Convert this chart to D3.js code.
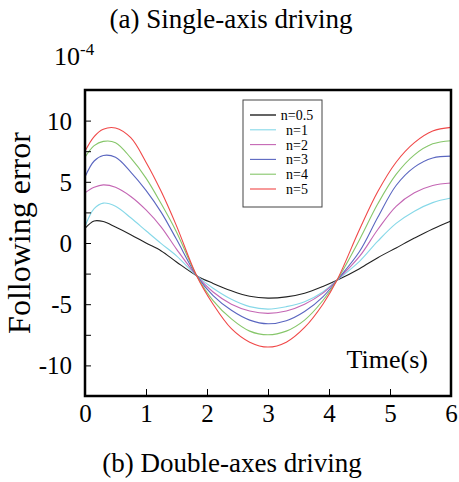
<!doctype html>
<html>
<head>
<meta charset="utf-8">
<script src="https://cdnjs.cloudflare.com/ajax/libs/d3/7.8.5/d3.min.js"></script>
<style>
  body { margin: 0; background: #fff; }
  svg { display: block; }
  svg text { font-family: "Liberation Serif", "Times New Roman", Times, serif; }
</style>
</head>
<body>
<svg width="459" height="482"></svg>
<script>
// sample times (s) shared by every series
var times = [0, 0.15, 0.3, 0.5, 0.75, 1, 1.25, 1.5, 1.83, 2.1, 2.4, 2.7, 3, 3.3, 3.6, 3.9, 4.13, 4.5, 4.8, 5.1, 5.4, 5.7, 6];

// following error, x 10^-4
var n05 = [1.2, 1.8, 1.75, 1.3, 0.68, 0.0, -0.65, -1.55, -2.67, -3.3, -3.9, -4.35, -4.5, -4.4, -4.1, -3.55, -3.05, -2.1, -1.2, -0.4, 0.4, 1.15, 1.8];
var n1  = [1.35, 2.8, 3.26, 3.0, 2.06, 1.0, -0.05, -1.05, -2.67, -3.7, -4.6, -5.2, -5.4, -5.2, -4.8, -4.0, -3.05, -1.5, 0.15, 1.6, 2.6, 3.3, 3.67];
var n2  = [4.1, 4.55, 4.75, 4.55, 3.8, 2.7, 1.3, -0.5, -2.67, -4.0, -5.0, -5.55, -5.75, -5.55, -5.0, -4.1, -3.05, -1.1, 1.1, 3.0, 4.1, 4.7, 4.9];
var n3  = [5.4, 6.7, 7.15, 7.0, 5.8, 4.3, 2.5, 0.3, -2.67, -4.3, -5.5, -6.3, -6.6, -6.35, -5.6, -4.4, -3.05, -0.7, 2.1, 4.7, 6.2, 6.95, 7.1];
var n4  = [7.0, 7.95, 8.3, 8.2, 6.95, 5.3, 3.2, 0.9, -2.67, -4.7, -6.2, -7.2, -7.5, -7.2, -6.3, -4.7, -3.05, 0.27, 3.2, 5.6, 7.2, 8.1, 8.36];
var n5  = [7.5, 8.7, 9.3, 9.4, 8.6, 6.6, 4.2, 1.4, -2.67, -5.0, -7.0, -8.1, -8.5, -8.1, -6.9, -5.0, -3.05, 1.1, 4.2, 6.6, 8.2, 9.15, 9.45];

var seriesNames = ["n=0.5", "n=1", "n=2", "n=3", "n=4", "n=5"];
var seriesValues = [n05, n1, n2, n3, n4, n5];
var seriesColors = ["#222222", "#86d8e8", "#c466b4", "#5a66c0", "#86c66a", "#f04848"];

var xTicks = [0, 1, 2, 3, 4, 5, 6];
var yTicks = [-10, -7.5, -5, -2.5, 0, 2.5, 5, 7.5, 10];

var svg = d3.select("svg");
var plotLeft = 85, plotRight = 451, plotTop = 90, plotBottom = 396;

var x = d3.scaleLinear().domain([0, 6]).range([plotLeft, plotRight]);
var y = d3.scaleLinear().domain([-12.5, 12.5]).range([plotBottom, plotTop]);

// titles
svg.append("text").attr("x", 231).attr("y", 28).attr("text-anchor", "middle")
  .style("font-size", "27px").text("(a) Single-axis driving");
svg.append("text").attr("x", 232).attr("y", 472).attr("text-anchor", "middle")
  .style("font-size", "27px").text("(b) Double-axes driving");

// curves
var line = d3.line()
  .x(function (d, i) { return x(times[i]); })
  .y(function (d) { return y(d); })
  .curve(d3.curveCatmullRom.alpha(0.5));

svg.selectAll("path.curve")
  .data(seriesValues)
  .enter()
  .append("path")
  .attr("class", "curve")
  .attr("d", line)
  .attr("fill", "none")
  .attr("stroke", function (d, i) { return seriesColors[i]; })
  .attr("stroke-width", 1.1);

// axes, ticks pointing inward
var yAxis = svg.append("g").attr("transform", "translate(" + plotLeft + ",0)")
  .call(d3.axisLeft(y).tickValues(yTicks).tickSize(-6).tickPadding(13)
    .tickFormat(function (d) { return d % 5 === 0 ? d : ""; }));
var xAxis = svg.append("g").attr("transform", "translate(0," + plotBottom + ")")
  .call(d3.axisBottom(x).tickValues(xTicks).tickSize(-7).tickPadding(8)
    .tickFormat(d3.format("d")));

[xAxis, yAxis].forEach(function (g) {
  g.select(".domain").remove();
  g.selectAll("line").attr("stroke", "#000").attr("stroke-width", 1);
  g.selectAll("text").style("font-size", "25px").attr("fill", "#000")
    .attr("font-family", null);
});
yAxis.selectAll("text").attr("dy", "0.34em");

// frame
svg.append("rect")
  .attr("x", plotLeft).attr("y", plotTop)
  .attr("width", plotRight - plotLeft).attr("height", plotBottom - plotTop)
  .attr("fill", "none").attr("stroke", "#000").attr("stroke-width", 2.5);

// exponent
var expo = svg.append("text").attr("x", 54).attr("y", 65).style("font-size", "26px");
expo.append("tspan").text("10");
expo.append("tspan").attr("dy", -10).style("font-size", "17px").text("-4");

// axis titles
svg.append("text")
  .attr("transform", "translate(30,233) rotate(-90)")
  .attr("text-anchor", "middle")
  .style("font-size", "32px")
  .text("Following error");
svg.append("text").attr("x", 428).attr("y", 368).attr("text-anchor", "end")
  .style("font-size", "26px").text("Time(s)");

// legend
var lg = svg.append("g");
lg.append("rect").attr("x", 243).attr("y", 100).attr("width", 79).attr("height", 107)
  .attr("fill", "#fff").attr("stroke", "#444").attr("stroke-width", 1);
var rowY = d3.scalePoint().domain(seriesNames).range([115, 189]);
seriesNames.forEach(function (name, i) {
  lg.append("line").attr("x1", 250).attr("x2", 276)
    .attr("y1", rowY(name)).attr("y2", rowY(name))
    .attr("stroke", seriesColors[i]).attr("stroke-width", i === 0 ? 1.4 : 1.1);
  lg.append("text").attr("x", 297).attr("y", rowY(name)).attr("dy", "0.35em")
    .attr("text-anchor", "middle").style("font-size", "14px").text(name);
});
</script>
</body>
</html>
